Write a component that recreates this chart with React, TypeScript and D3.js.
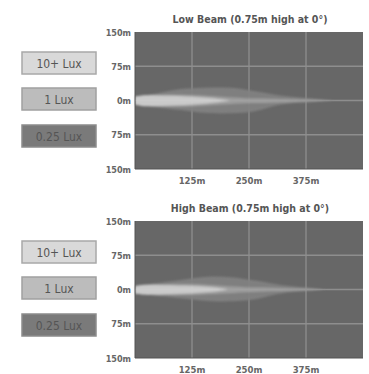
import React from "react";
import * as d3 from "d3";

const xTicks = [125, 250, 375];
const yTicks = [150, 75, 0, -75, -150];
const yTickLabels = ["150m", "75m", "0m", "75m", "150m"];
const legendLabels = ["10+ Lux", "1 Lux", "0.25 Lux"];
const titles = ["Low Beam (0.75m high at 0°)", "High Beam (0.75m high at 0°)"];

// Low beam contours: distance (m), upper / lower lateral edge (m)
const lowDist025 = [0, 40, 100, 150, 210, 260, 320, 380, 440];
const lowUp025 = [7, 14, 25, 28, 28, 21, 11, 5, 0];
const lowLo025 = [-9, -14, -21, -27, -28, -24, -9, -4, 0];
const lowDist1 = [0, 50, 120, 190, 240, 300, 380, 430];
const lowUp1 = [9, 12, 12, 8, 5, 4, 2, 0];
const lowLo1 = [-10, -13, -13, -9, -6, -5, -2, 0];
const lowDist10 = [0, 15, 50, 110, 170, 210];
const lowUp10 = [8, 11, 11, 9, 5, 0];
const lowLo10 = [-9, -12, -12, -10, -5, 0];

// High beam contours
const highDist025 = [0, 40, 100, 160, 210, 260, 320, 380, 420];
const highUp025 = [6, 13, 21, 28, 27, 20, 10, 4, 0];
const highLo025 = [-9, -13, -19, -25, -26, -22, -9, -3, 0];
const highDist1 = [0, 50, 120, 190, 240, 300, 370, 415];
const highUp1 = [8, 11, 12, 8, 5, 4, 2, 0];
const highLo1 = [-10, -12, -12, -9, -6, -4, -2, 0];
const highDist10 = [0, 15, 50, 110, 170, 205];
const highUp10 = [7, 10, 10, 8, 5, 0];
const highLo10 = [-9, -11, -11, -9, -5, 0];

const charts = [
  {
    title: titles[0],
    top: 32,
    levels: [
      { d: lowDist025, u: lowUp025, l: lowLo025, c: "#828282" },
      { d: lowDist1, u: lowUp1, l: lowLo1, c: "#a3a3a3" },
      { d: lowDist10, u: lowUp10, l: lowLo10, c: "#d3d3d3" },
    ],
  },
  {
    title: titles[1],
    top: 221,
    levels: [
      { d: highDist025, u: highUp025, l: highLo025, c: "#828282" },
      { d: highDist1, u: highUp1, l: highLo1, c: "#a3a3a3" },
      { d: highDist10, u: highUp10, l: highLo10, c: "#d3d3d3" },
    ],
  },
];

const legendFills = ["#d9d9d9", "#bcbcbc", "#7a7a7a"];
const legendStrokes = ["#a8a8a8", "#a0a0a0", "#8c8c8c"];

const plotLeft = 135;
const plotRight = 363;
const plotH = 137;
const font = "'DejaVu Sans Condensed', 'DejaVu Sans', sans-serif";

function Chart({ cfg, idx }: { cfg: any; idx: number }) {
  const x = d3.scaleLinear().domain([0, 500]).range([plotLeft, plotRight]);
  const y = d3.scaleLinear().domain([150, -150]).range([cfg.top, cfg.top + plotH]);
  const legendTops = [cfg.top + 20, cfg.top + 56, cfg.top + 93];
  return (
    <g>
      <text
        x={(plotLeft + plotRight) / 2 + 1}
        y={cfg.top - 9}
        textAnchor="middle"
        fontSize={10.5}
        fontWeight="bold"
        fill="#555"
        fontFamily={font}
      >
        {cfg.title}
      </text>
      <rect x={plotLeft} y={cfg.top} width={plotRight - plotLeft} height={plotH} fill="#676767" />
      {xTicks.map((t) => (
        <line key={"vx" + t} x1={x(t)} x2={x(t)} y1={cfg.top} y2={cfg.top + plotH} stroke="#8e8e8e" strokeWidth={1.3} />
      ))}
      {yTicks.slice(1, 4).map((t) => (
        <line key={"hy" + t} x1={plotLeft} x2={plotRight} y1={y(t)} y2={y(t)} stroke="#8e8e8e" strokeWidth={1.3} />
      ))}
      <g filter={`url(#blur${idx})`} opacity={0.92}>
        {cfg.levels.map((lv: any, k: number) => {
          const a = d3
            .area<number>()
            .x((_, i) => x(lv.d[i]))
            .y0((_, i) => y(lv.l[i]))
            .y1((_, i) => y(lv.u[i]))
            .curve(d3.curveCatmullRom);
          return <path key={k} d={a(lv.d) || ""} fill={lv.c} />;
        })}
      </g>
      <line x1={plotLeft} x2={plotLeft} y1={cfg.top} y2={cfg.top + plotH} stroke="#555" />
      <line x1={plotLeft} x2={plotRight} y1={cfg.top + plotH} y2={cfg.top + plotH} stroke="#555" />
      {yTicks.map((t, i) => (
        <text
          key={"yl" + i}
          x={plotLeft - 4}
          y={y(t) + 3.5}
          textAnchor="end"
          fontSize={9}
          fontWeight="bold"
          fill="#666"
          fontFamily={font}
        >
          {yTickLabels[i]}
        </text>
      ))}
      {xTicks.map((t) => (
        <text
          key={"xl" + t}
          x={x(t)}
          y={cfg.top + plotH + 15}
          textAnchor="middle"
          fontSize={9.5}
          fontWeight="bold"
          fill="#666"
          fontFamily={font}
        >
          {t + "m"}
        </text>
      ))}
      {legendLabels.map((lab, i) => (
        <g key={"lg" + i}>
          <rect x={22} y={legendTops[i]} width={74} height={22} fill={legendFills[i]} stroke={legendStrokes[i]} strokeWidth={1.5} />
          <text
            x={59}
            y={legendTops[i] + 15.5}
            textAnchor="middle"
            fontSize={12}
            fill="#555"
            fontFamily={font}
          >
            {lab}
          </text>
        </g>
      ))}
    </g>
  );
}

export default function App() {
  return (
    <svg
      width={369}
      height={374}
      style={{ position: "absolute", left: 0, top: 0, background: "#fff" }}
    >
      <defs>
        <filter id="blur0" x="-10%" y="-50%" width="120%" height="200%">
          <feGaussianBlur stdDeviation="0.9" />
        </filter>
        <filter id="blur1" x="-10%" y="-50%" width="120%" height="200%">
          <feGaussianBlur stdDeviation="0.9" />
        </filter>
      </defs>
      {charts.map((c, i) => (
        <Chart key={i} cfg={c} idx={i} />
      ))}
    </svg>
  );
}
